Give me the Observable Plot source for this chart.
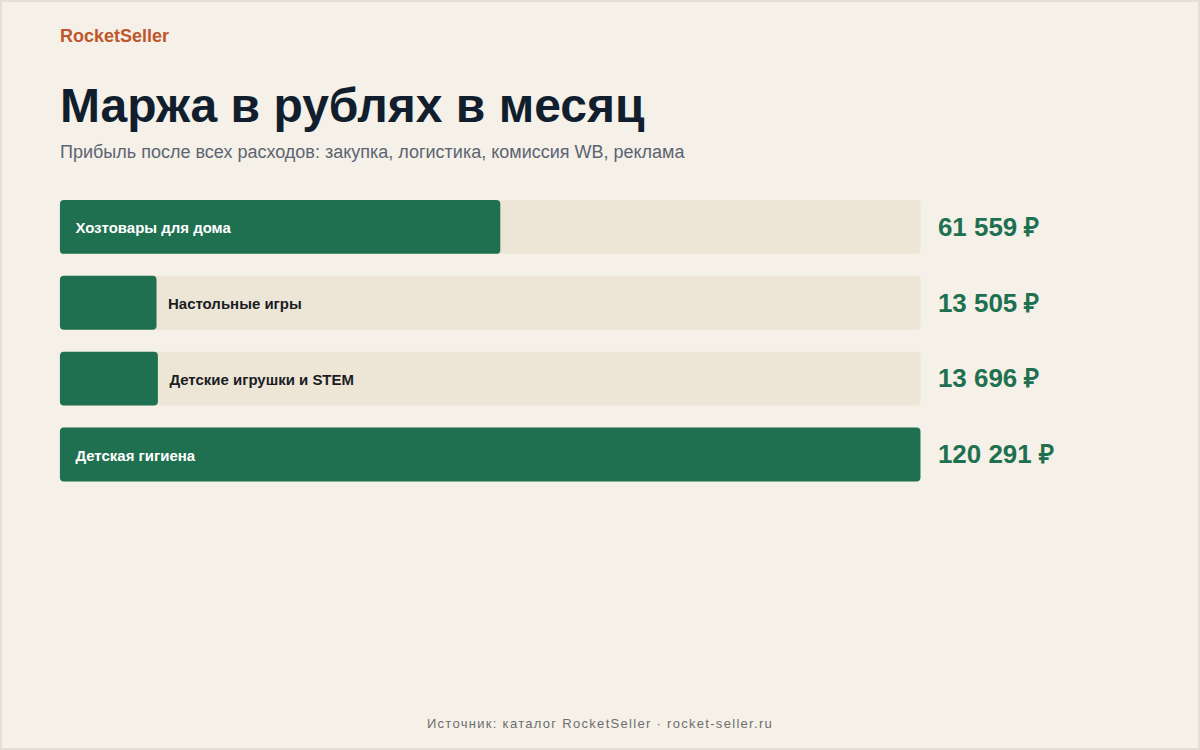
<!DOCTYPE html>
<html>
<head>
<meta charset="utf-8">
<script src="https://cdn.jsdelivr.net/npm/d3@7"></script>
<script src="https://cdn.jsdelivr.net/npm/@observablehq/plot@0.6"></script>
<style>
  html, body { margin: 0; padding: 0; }
  body { width: 1200px; height: 750px; overflow: hidden; font-family: "Liberation Sans", Arial, sans-serif; }
  #page { position: relative; width: 1200px; height: 750px; box-sizing: border-box; background: #f5f0e8; border: 2px solid #e3ded6; }
  #brand { position: absolute; left: 58px; top: 24px; font-size: 18px; font-weight: bold; color: #c0562c; }
  #title { position: absolute; left: 58px; top: 76px; font-size: 48px; font-weight: bold; color: #101e2e; margin: 0; line-height: 1.15; }
  #subtitle { position: absolute; left: 58px; top: 140px; font-size: 18px; color: #5c6471; }
  #chart { position: absolute; left: -2px; top: 176px; }
  #footer { position: absolute; left: 0; right: 0; top: 714px; text-align: center; font-size: 13px; letter-spacing: 1.3px; color: #6e6e6e; }
</style>
</head>
<body>
<div id="page">
  <div id="brand">RocketSeller</div>
  <h1 id="title">Маржа в рублях в месяц</h1>
  <div id="subtitle">Прибыль после всех расходов: закупка, логистика, комиссия WB, реклама</div>
  <div id="chart"></div>
  <div id="footer">Источник: каталог RocketSeller · rocket-seller.ru</div>
</div>
<script>
const categories = ["Хозтовары для дома", "Настольные игры", "Детские игрушки и STEM", "Детская гигиена"];
const margins = [61559, 13505, 13696, 120291];
const valueLabels = ["61 559 ₽", "13 505 ₽", "13 696 ₽", "120 291 ₽"];

const data = categories.map((c, i) => ({cat: c, value: margins[i], label: valueLabels[i]}));
const maxV = d3.max(margins);
const inside = d => d.value / maxV > 0.3;

const plot = Plot.plot({
  width: 1200,
  height: 322,
  marginLeft: 60,
  marginRight: 278,
  marginTop: 22,
  marginBottom: 18,
  style: {background: "transparent", fontFamily: "Liberation Sans, Arial, sans-serif"},
  x: {domain: [0, maxV], axis: null},
  y: {domain: categories, axis: null, paddingInner: 22 / 76, paddingOuter: 0},
  marks: [
    Plot.barX(data, {y: "cat", x1: 0, x2: maxV, fill: "#ede5d5", rx: 4}),
    Plot.barX(data, {y: "cat", x1: 0, x2: "value", fill: "#1f7050", rx: 4}),
    Plot.text(data.filter(inside), {
      y: "cat",
      x: 0,
      text: "cat",
      textAnchor: "start",
      dx: 15,
      dy: 1,
      fontSize: 15,
      fontWeight: "bold",
      fill: "#ffffff"
    }),
    Plot.text(data.filter(d => !inside(d)), {
      y: "cat",
      x: "value",
      text: "cat",
      textAnchor: "start",
      dx: 11,
      dy: 1,
      fontSize: 15,
      fontWeight: "bold",
      fill: "#1a1d24"
    }),
    Plot.text(data, {
      y: "cat",
      x: maxV,
      text: "label",
      textAnchor: "start",
      dx: 17,
      fontSize: 26,
      fontWeight: "bold",
      fill: "#1f7050"
    })
  ]
});
document.getElementById("chart").appendChild(plot);
</script>
</body>
</html>
